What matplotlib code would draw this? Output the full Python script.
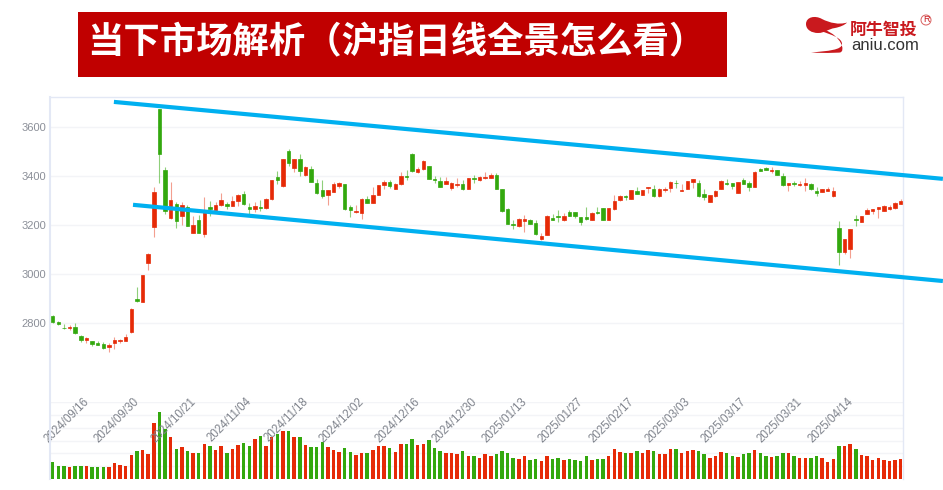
import matplotlib
matplotlib.use('Agg')
import matplotlib.pyplot as plt
import numpy as np
from matplotlib.patches import PathPatch, Rectangle, Circle
from matplotlib.path import Path
from matplotlib.transforms import ScaledTranslation

W, H = 943, 490
RED = '#e62a07'
GREEN = '#33a80e'
BLUE = '#00b0f0'
CJK = ['Noto Sans CJK SC', 'DejaVu Sans']

# daily candles
opens = [2827, 2805, 2781, 2778, 2785, 2748, 2731, 2725, 2716, 2712, 2701, 2717, 2727, 2727, 2762, 2898,
         2887, 3044, 3190, 3674, 3426, 3229, 3286, 3238, 3275, 3165, 3219, 3162, 3275, 3261, 3282, 3286,
         3278, 3297, 3327, 3273, 3264, 3273, 3270, 3305, 3396, 3358, 3502, 3431, 3469, 3404, 3429, 3370,
         3343, 3322, 3334, 3360, 3367, 3272, 3252, 3248, 3305, 3291, 3322, 3362, 3374, 3348, 3367, 3399,
         3490, 3414, 3427, 3439, 3388, 3380, 3367, 3351, 3361, 3366, 3348, 3390, 3384, 3392, 3392, 3404,
         3346, 3264, 3204, 3197, 3214, 3218, 3208, 3141, 3159, 3230, 3237, 3220, 3253, 3254, 3233, 3231,
         3219, 3253, 3267, 3220, 3264, 3303, 3320, 3307, 3340, 3322, 3351, 3346, 3316, 3344, 3352, 3373,
         3340, 3347, 3376, 3371, 3327, 3295, 3320, 3348, 3371, 3373, 3332, 3384, 3369, 3356, 3430, 3431,
         3420, 3423, 3400, 3361, 3370, 3361, 3361, 3367, 3340, 3336, 3339, 3316, 3189, 3088, 3103, 3226,
         3212, 3246, 3257, 3263, 3257, 3264, 3267, 3286]
closes = [2803, 2796, 2778, 2782, 2758, 2729, 2739, 2713, 2710, 2697, 2710, 2731, 2731, 2743, 2858, 2890,
          2996, 3083, 3333, 3489, 3256, 3301, 3215, 3283, 3197, 3201, 3166, 3252, 3263, 3282, 3301, 3276,
          3299, 3321, 3284, 3264, 3279, 3268, 3307, 3385, 3382, 3469, 3452, 3469, 3419, 3438, 3377, 3329,
          3320, 3343, 3367, 3370, 3263, 3259, 3257, 3307, 3290, 3322, 3361, 3377, 3359, 3367, 3401, 3396,
          3419, 3429, 3461, 3388, 3382, 3356, 3380, 3369, 3366, 3346, 3390, 3388, 3397, 3396, 3405, 3347,
          3257, 3205, 3201, 3226, 3226, 3205, 3162, 3156, 3238, 3220, 3231, 3238, 3238, 3237, 3210, 3224,
          3249, 3248, 3222, 3267, 3299, 3320, 3312, 3343, 3328, 3343, 3354, 3320, 3348, 3348, 3376, 3369,
          3343, 3378, 3386, 3316, 3312, 3322, 3340, 3380, 3367, 3359, 3376, 3367, 3354, 3416, 3422, 3426,
          3424, 3404, 3362, 3369, 3366, 3366, 3370, 3346, 3331, 3346, 3347, 3340, 3091, 3141, 3182, 3220,
          3235, 3259, 3264, 3273, 3276, 3273, 3290, 3297]
highs = [2834, 2808, 2795, 2790, 2800, 2751, 2744, 2728, 2728, 2722, 2718, 2742, 2736, 2755, 2860, 2947,
         2996, 3085, 3356, 3674, 3437, 3377, 3294, 3294, 3283, 3235, 3239, 3314, 3299, 3294, 3329, 3294,
         3318, 3328, 3339, 3291, 3294, 3303, 3310, 3385, 3422, 3469, 3510, 3469, 3491, 3441, 3441, 3389,
         3385, 3343, 3375, 3375, 3367, 3282, 3282, 3309, 3320, 3356, 3363, 3384, 3382, 3373, 3416, 3424,
         3494, 3435, 3464, 3441, 3399, 3395, 3396, 3377, 3390, 3384, 3392, 3404, 3401, 3416, 3412, 3411,
         3347, 3271, 3220, 3229, 3242, 3226, 3218, 3169, 3239, 3244, 3261, 3248, 3261, 3254, 3234, 3272,
         3253, 3272, 3268, 3268, 3322, 3321, 3321, 3343, 3354, 3343, 3355, 3363, 3350, 3356, 3378, 3382,
         3367, 3380, 3388, 3382, 3346, 3324, 3341, 3382, 3389, 3373, 3377, 3390, 3378, 3419, 3434, 3435,
         3438, 3426, 3411, 3370, 3380, 3380, 3390, 3373, 3356, 3348, 3356, 3354, 3216, 3143, 3184, 3241,
         3237, 3269, 3265, 3275, 3280, 3280, 3293, 3307]
lows = [2800, 2792, 2777, 2773, 2756, 2721, 2716, 2706, 2709, 2695, 2683, 2693, 2716, 2725, 2759, 2887,
        2885, 3016, 3151, 3371, 3246, 3226, 3186, 3201, 3195, 3165, 3165, 3151, 3237, 3258, 3278, 3265,
        3276, 3279, 3283, 3246, 3252, 3258, 3263, 3301, 3366, 3355, 3442, 3416, 3401, 3401, 3374, 3325,
        3308, 3283, 3333, 3349, 3260, 3231, 3250, 3224, 3288, 3288, 3321, 3346, 3352, 3347, 3363, 3384,
        3415, 3411, 3424, 3386, 3373, 3354, 3365, 3343, 3356, 3344, 3347, 3371, 3381, 3389, 3390, 3346,
        3254, 3204, 3184, 3190, 3173, 3203, 3159, 3137, 3158, 3218, 3210, 3216, 3237, 3227, 3200, 3220,
        3218, 3245, 3220, 3220, 3261, 3299, 3302, 3306, 3325, 3321, 3332, 3312, 3314, 3336, 3336, 3352,
        3337, 3346, 3352, 3314, 3303, 3294, 3312, 3347, 3363, 3347, 3331, 3366, 3340, 3355, 3420, 3424,
        3412, 3403, 3359, 3339, 3359, 3359, 3340, 3343, 3316, 3335, 3337, 3314, 3037, 3080, 3065, 3197,
        3210, 3245, 3245, 3230, 3256, 3261, 3265, 3284]
volumes = [51, 40, 38, 36, 38, 38, 38, 36, 36, 36, 36, 47, 42, 38, 71, 85,
           86, 74, 168, 200, 151, 126, 91, 95, 85, 78, 79, 104, 100, 87, 98, 78,
           89, 102, 109, 100, 119, 128, 100, 125, 136, 145, 145, 125, 125, 102, 95, 95,
           112, 95, 86, 80, 94, 82, 71, 77, 77, 87, 100, 100, 94, 81, 106, 106,
           121, 102, 106, 116, 94, 85, 77, 77, 74, 83, 70, 70, 62, 75, 68, 75,
           85, 77, 64, 60, 70, 57, 60, 55, 70, 60, 64, 56, 60, 56, 55, 68,
           58, 59, 60, 68, 91, 81, 77, 77, 85, 79, 88, 85, 75, 75, 91, 91,
           79, 83, 87, 85, 75, 64, 68, 81, 77, 68, 66, 75, 77, 87, 77, 68,
           66, 68, 77, 77, 68, 64, 62, 62, 70, 62, 51, 60, 100, 100, 104, 89,
           71, 70, 58, 64, 57, 53, 57, 60]

# the two hand-drawn channel lines, (candle index, price)
upper_x = [10.9, 158.5]
upper_y = [3702, 3388]
lower_x = [14.3, 158.5]
lower_y = [3282, 2971]

price_ticks = [2800, 3000, 3200, 3400, 3600]
date_ticks = [9, 18, 28, 38, 48, 58, 68, 78, 87, 97, 106, 116, 126, 136, 145]
date_labels = ['2024/09/16', '2024/09/30', '2024/10/21', '2024/11/04', '2024/11/18',
               '2024/12/02', '2024/12/16', '2024/12/30', '2025/01/13', '2025/01/27',
               '2025/02/17', '2025/03/03', '2025/03/17', '2025/03/31', '2025/04/14']

title = '当下市场解析（沪指日线全景怎么看）'

fig = plt.figure(figsize=(W / 100, H / 100), dpi=100, facecolor='white')


def box(left, top, right, bottom):
    # pixel box (from the top left) to figure fractions
    return [left / W, 1 - bottom / H, (right - left) / W, (bottom - top) / H]


opens = np.array(opens)
closes = np.array(closes)
highs = np.array(highs)
lows = np.array(lows)
idx = np.arange(len(opens))
up = closes >= opens
colors = np.where(up, RED, GREEN)
xlim = (-0.48, 151.4)

# volume panel
vol = fig.add_axes(box(50, 402.3, 903, 479), zorder=1)
vol.bar(idx, volumes, width=0.62, color=colors, linewidth=0, zorder=3)
vol.set_xlim(xlim)
vol.set_ylim(0, 230)
vol.set_yticks(np.arange(38.3, 231, 38.3))
vol.set_xticks([])
vol.tick_params(left=False, labelleft=False)
vol.grid(axis='y', color='#f3f4f7', lw=1)
vol.set_axisbelow(True)
vol.patch.set_alpha(0)
for s in vol.spines.values():
    s.set_visible(False)

# price panel
ax = fig.add_axes(box(50, 97, 903, 479), zorder=2)
ax.patch.set_alpha(0)
ax.vlines(idx[up], lows[up], highs[up], color=RED, lw=0.8, alpha=0.45, zorder=3)
ax.vlines(idx[~up], lows[~up], highs[~up], color=GREEN, lw=0.8, alpha=0.55, zorder=3)
ax.bar(idx, np.maximum(np.abs(closes - opens), 2), bottom=np.minimum(opens, closes), width=0.62,
       color=colors, linewidth=0.5, edgecolor=colors, zorder=4)
ax.plot(upper_x, upper_y, color=BLUE, lw=3, clip_on=False, zorder=6, solid_capstyle='butt')
ax.plot(lower_x, lower_y, color=BLUE, lw=3, clip_on=False, zorder=6, solid_capstyle='butt')

ax.set_xlim(xlim)
ax.set_ylim(2163, 3722)
ax.set_yticks(price_ticks)
ax.set_yticklabels(price_ticks, family='Liberation Sans', fontsize=8, color='#8b8f98')
ax.tick_params(axis='y', length=0, pad=3)
ax.grid(axis='y', color='#f3f4f7', lw=1)
ax.set_axisbelow(True)

ax.set_xticks(date_ticks)
ax.set_xticklabels(date_labels, family='Liberation Sans', fontsize=8.3, color='#7f838c',
                   rotation=45, ha='right', va='center', rotation_mode='anchor')
ax.tick_params(axis='x', length=0, pad=-57)
shift = ScaledTranslation(-16 / 100, 0, fig.dpi_scale_trans)
for lab in ax.get_xticklabels():
    lab.set_transform(lab.get_transform() + shift)

for name, s in ax.spines.items():
    s.set_color('#e3e8f5')
    s.set_linewidth(1)
ax.spines['left'].set_linewidth(1.5)
ax.spines['bottom'].set_visible(False)

# banner and logo, drawn in image pixels on a full figure layer
top = fig.add_axes([0, 0, 1, 1], zorder=5)
top.set_xlim(0, W)
top.set_ylim(H, 0)
top.axis('off')
top.add_patch(Rectangle((78, 12), 649, 65, facecolor='#c00000', edgecolor='none'))
top.text(87, 42.5, title, color='white', fontsize=26.2, fontweight='bold', family=CJK, va='center', ha='left')

M, C = Path.MOVETO, Path.CURVE4
head = [(847, 22.5), (839, 25), (830, 23), (822, 19), (815, 15), (806, 17), (806, 24),
        (806, 30), (812, 33), (818, 33), (825, 33), (828, 29), (835, 28), (840, 27), (845, 25), (847, 22.5)]
head_codes = [M] + [C] * 15
tail = [(821, 31), (832, 35), (842, 38), (842, 44), (842, 50), (828, 51), (811, 52.5),
        (828, 53.5), (840, 52.5), (840, 52.5), (846, 51), (841, 36), (825, 30)]
tail_codes = [M] + [C] * 12
top.add_patch(PathPatch(Path(head, head_codes), facecolor='#c9191e', edgecolor='none'))
top.add_patch(PathPatch(Path(tail, tail_codes), facecolor='#c9191e', edgecolor='none'))
top.text(850, 29.5, '阿牛智投', color='#c9191e', fontsize=12.2, fontweight='bold', family=CJK, va='center', ha='left')
top.text(851, 46, 'aniu.com', color='#333333', fontsize=12, family='Liberation Sans', va='center', ha='left')
top.add_patch(Circle((926, 20), 5, facecolor='none', edgecolor='#d9605f', lw=0.7))
top.text(926, 20, 'R', color='#c9191e', fontsize=6.5, family='Liberation Sans', va='center', ha='center')

fig.savefig('out.png', dpi=100)
